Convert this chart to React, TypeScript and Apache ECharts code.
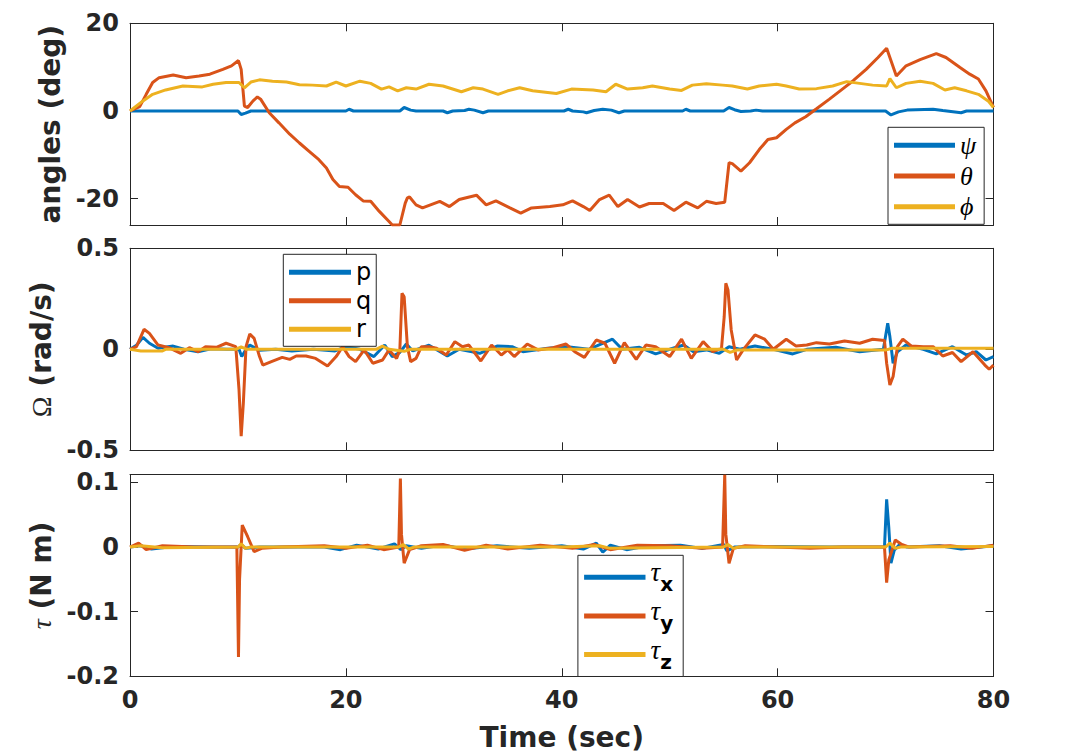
import { useEffect, useRef } from 'react';
import * as echarts from 'echarts';

// ---- data: time (s) / value pairs ----
const timeTicks = [0, 20, 40, 60, 80];
const angleTicks = [-20, 0, 20];
const rateTicks = [-0.5, 0, 0.5];
const torqueTicks = [-0.2, -0.1, 0, 0.1];

const psi: [number, number][] = [
  [0, 0], [10.0, 0], [10.3, -0.8], [10.7, -0.5], [11.2, 0], [20.0, 0], [20.3, 0.4], [20.7, 0], [25.0, 0], [25.4, 0.8],
  [26.0, 0.2], [26.5, 0], [29.0, 0], [29.4, -0.4], [29.9, 0], [31.0, 0.1], [31.4, 0.4], [31.9, 0.2], [32.7, -0.4], [33.2, 0],
  [40.2, 0], [40.6, 0.4], [41.0, 0], [42.0, -0.2], [42.3, -0.4], [43.0, 0.1], [43.8, 0.4], [44.6, 0.2], [45.3, -0.4], [45.8, 0],
  [51.2, 0], [51.5, 0.4], [51.9, 0], [55.0, 0], [55.5, 0.8], [56.0, 0.3], [56.6, -0.1], [57.5, 0], [58.0, 0.2], [58.6, 0],
  [70.0, 0], [70.5, -0.9], [71.2, -0.2], [72.0, 0.2], [74.4, 0.4], [75.3, 0.1], [77.0, -0.4], [77.5, 0], [80, 0],
];
const theta: [number, number][] = [
  [0, 0], [0.9, 1.0], [1.5, 3.8], [2.1, 6.5], [2.7, 7.6], [4.0, 8.2], [5.2, 7.6], [6.4, 8.0], [7.4, 8.4], [8.6, 9.5],
  [9.4, 10.3], [10.05, 11.5], [10.3, 9.5], [10.6, 1.1], [10.9, 0.8], [11.4, 2.3], [11.8, 3.2], [12.1, 2.7], [12.9, -0.4],
  [13.8, -2.7], [14.8, -5.3], [15.7, -7.3], [16.6, -9.2], [17.5, -11.1], [18.2, -13.0], [18.8, -15.6], [19.4, -17.2],
  [20.2, -17.4], [20.9, -19.1], [21.6, -20.5], [22.3, -20.6], [23.1, -22.9], [24.0, -25.2], [24.3, -26], [25.0, -26],
  [25.5, -21.0], [25.7, -19.8], [25.9, -19.6], [26.5, -21.4], [27.1, -22.1], [28.7, -20.6], [29.6, -21.8], [30.5, -20.2],
  [32.1, -19.2], [33.0, -21.4], [33.9, -20.5], [35.2, -22.1], [36.2, -23.3], [37.2, -22.1], [38.9, -21.8], [40.1, -21.4],
  [41.0, -20.5], [42.0, -21.8], [42.6, -22.7], [43.5, -20.2], [44.4, -19.2], [45.2, -21.8], [46.1, -20.2], [47.2, -21.9],
  [48.1, -21.1], [49.4, -21.1], [50.4, -22.7], [51.5, -20.8], [52.6, -22.1], [53.4, -20.6], [54.3, -21.1], [55.1, -20.8],
  [55.5, -11.8], [55.8, -12.0], [56.6, -13.7], [57.4, -11.8], [58.3, -8.8], [59.1, -6.5], [59.9, -6.1], [60.8, -4.2],
  [61.6, -2.7], [62.6, -1.3], [63.6, 0.5], [64.8, 2.7], [66.0, 5.0], [67.0, 6.9], [68.2, 9.5], [69.3, 12.2], [70.1, 14.3],
  [71.0, 8.0], [71.9, 10.3], [73.2, 11.7], [74.7, 13.1], [75.6, 12.2], [76.9, 9.9], [77.8, 8.4], [78.6, 7.3], [79.3, 4.6],
  [80, 0.8],
];
const phi: [number, number][] = [
  [0, 0], [1.2, 2.3], [2.1, 3.8], [3.3, 4.8], [4.9, 5.7], [6.7, 5.5], [7.7, 6.1], [8.9, 6.5], [10.1, 6.5], [10.6, 5.3],
  [11.2, 6.6], [12.0, 7.1], [13.2, 6.8], [14.5, 6.6], [15.7, 6.0], [16.9, 5.9], [18.2, 5.7], [19.1, 6.6], [20.0, 5.7],
  [21.3, 6.8], [22.3, 6.3], [23.3, 5.0], [24.0, 5.5], [24.8, 4.6], [25.6, 5.3], [26.5, 5.0], [27.7, 6.1], [29.0, 5.7],
  [30.7, 4.4], [31.8, 5.3], [32.7, 5.0], [34.1, 3.8], [35.0, 4.6], [36.1, 5.3], [37.3, 4.6], [39.5, 4.0], [40.9, 5.0],
  [42.9, 4.8], [44.1, 4.4], [45.0, 6.1], [46.1, 5.0], [47.5, 5.3], [48.4, 5.7], [50.0, 5.0], [51.1, 4.7], [52.1, 5.9],
  [53.4, 6.2], [54.9, 5.9], [55.8, 5.7], [57.2, 5.0], [58.3, 5.7], [59.9, 6.1], [60.8, 5.7], [62.0, 5.0], [63.6, 5.1],
  [65.1, 5.7], [66.4, 6.7], [67.6, 6.3], [68.8, 5.9], [70.1, 5.7], [70.4, 7.4], [71.0, 5.3], [71.9, 6.3], [73.2, 6.8],
  [74.4, 6.3], [75.5, 4.8], [76.4, 5.3], [77.5, 4.6], [78.6, 3.8], [79.5, 2.3], [80, 0.8],
];

const p: [number, number][] = [
  [0, 0], [0.6, 0.02], [1.2, 0.059], [1.8, 0.03], [2.6, 0.005], [3.2, 0.01], [4.0, 0.016], [5.0, 0], [6.3, -0.012],
  [7.5, 0.003], [9.0, 0], [10.1, 0], [10.35, -0.036], [10.7, -0.005], [11.1, 0.021], [12.0, -0.005], [13.5, 0],
  [15.0, -0.008], [17.0, 0], [19.0, -0.008], [20.0, 0.013], [21.3, 0], [22.6, -0.036], [23.6, 0.021], [24.3, -0.036],
  [25.0, -0.015], [25.6, 0.026], [26.2, -0.008], [27.7, 0.02], [29.4, -0.033], [30.5, 0], [32.4, -0.02], [34.0, 0.016],
  [35.4, 0.013], [36.4, -0.012], [38.7, 0.005], [40.5, 0.013], [42.5, 0], [44.7, 0.05], [45.6, 0], [47.2, 0.01],
  [48.7, -0.023], [50.0, 0], [51.3, 0.021], [52.2, -0.012], [53.4, -0.003], [54.6, -0.02], [55.5, 0.013], [56.5, 0],
  [57.9, 0.016], [59.6, 0], [61.4, -0.023], [62.7, 0], [65.4, 0.01], [67.6, -0.012], [69.8, 0], [70.2, 0.129],
  [70.4, 0.063], [70.7, -0.069], [71.1, -0.012], [71.9, 0.021], [73.5, 0], [74.7, -0.023], [76.2, 0.013], [77.5, -0.028],
  [78.4, -0.012], [79.3, -0.053], [80, -0.036],
];
const q: [number, number][] = [
  [0, 0], [0.6, 0.013], [1.3, 0.099], [1.8, 0.079], [2.6, 0.021], [3.6, 0.008], [4.7, -0.02], [5.5, 0.008], [6.3, -0.012],
  [7.0, 0.013], [8.0, 0.01], [8.9, 0.03], [9.8, 0.013], [10.1, -0.2], [10.3, -0.43], [10.5, -0.267], [10.75, 0.013],
  [11.1, 0.076], [11.5, 0.054], [12.0, -0.036], [12.3, -0.078], [13.1, -0.061], [14.1, -0.04], [14.8, -0.05],
  [15.4, -0.033], [16.3, -0.033], [17.2, -0.045], [18.3, -0.083], [19.1, -0.036], [19.7, 0.013], [20.3, -0.036],
  [20.9, -0.061], [21.7, -0.003], [22.5, -0.069], [23.4, -0.053], [24.0, -0.003], [24.7, -0.045], [25.0, -0.003],
  [25.2, 0.277], [25.4, 0.26], [25.7, 0.013], [26.0, -0.061], [26.5, -0.045], [27.0, 0.013], [27.7, 0.013], [28.4, 0.005],
  [29.3, -0.028], [30.1, 0.038], [30.8, 0.013], [31.4, 0.021], [32.5, -0.058], [33.5, 0.021], [34.4, -0.028],
  [35.0, -0.003], [35.6, -0.036], [36.8, 0.026], [37.8, -0.003], [39.2, 0.008], [40.4, 0.026], [41.2, -0.012],
  [42.1, -0.04], [43.2, 0.046], [44.0, 0.03], [44.9, -0.069], [45.8, 0.033], [46.9, -0.05], [47.8, 0.021], [48.7, 0.013],
  [50.0, -0.036], [51.1, 0.05], [52.0, -0.045], [53.1, 0.038], [54.0, -0.012], [54.8, 0.005], [55.05, 0.16], [55.2, 0.327],
  [55.4, 0.294], [55.7, 0.096], [56.2, -0.053], [56.8, -0.003], [57.9, 0.071], [58.8, 0.05], [59.6, 0], [60.8, 0.05],
  [61.7, 0.016], [62.7, 0.021], [63.6, 0.033], [64.8, 0.026], [66.2, 0.041], [67.6, 0.03], [68.8, 0.05], [69.9, 0.043],
  [70.1, -0.069], [70.4, -0.177], [70.7, -0.135], [71.1, 0.013], [71.6, 0.05], [72.4, 0.016], [73.5, 0.013],
  [74.4, 0.013], [75.3, -0.033], [76.2, -0.016], [77.0, -0.061], [78.1, -0.012], [79.2, -0.078], [79.6, -0.099],
  [80, -0.078],
];
const r: [number, number][] = [
  [0, 0], [1.0, -0.008], [3.0, -0.008], [3.3, 0], [9.8, 0], [10.3, 0.012], [10.8, 0], [22.8, 0], [23.4, 0.016],
  [24.0, 0], [25.4, -0.01], [26.0, 0], [55.0, 0], [55.6, -0.015], [56.2, -0.004], [70.0, -0.004], [70.6, 0.005], [80, 0.005],
];

const tauX: [number, number][] = [
  [0, 0], [1, 0.002], [2, -0.003], [4, 0.001], [8, 0], [10.0, 0], [10.3, 0.004], [10.7, -0.002], [12, 0], [18, 0],
  [19.5, -0.004], [21, 0.003], [23, -0.003], [24.5, 0.005], [25.1, -0.004], [25.6, 0.002], [27, -0.002], [29, 0.003],
  [31, -0.003], [34, 0.002], [37, -0.002], [40, 0.002], [42, -0.003], [43.2, 0.006], [43.8, -0.008], [44.5, 0.003],
  [46, -0.004], [48, 0.002], [51, 0.003], [53, -0.002], [55.0, 0.004], [55.3, -0.006], [56, 0], [60, 0.001], [65, 0],
  [69.9, 0], [70.1, 0.074], [70.3, 0.03], [70.5, -0.025], [70.8, -0.005], [71.3, 0.004], [72, 0], [75, 0.002],
  [77, -0.003], [80, 0.002],
];
const tauY: [number, number][] = [
  [0, 0], [0.8, 0.006], [1.5, -0.004], [3, 0.002], [6, 0], [9.9, 0], [10.05, -0.17], [10.15, -0.05], [10.4, 0.034],
  [10.9, 0.016], [11.5, -0.007], [12.2, -0.002], [14, 0], [18, 0.002], [20, -0.002], [22, 0.003], [23.5, -0.004],
  [24.9, 0], [25.05, 0.106], [25.15, 0.02], [25.4, -0.025], [25.9, -0.004], [27, 0.002], [29, 0.004], [31, -0.005],
  [33, 0.003], [35, -0.003], [38, 0.003], [41, -0.002], [43, 0.004], [44.5, -0.004], [47, 0.003], [50, 0.002],
  [53, -0.002], [54.9, 0], [55.1, 0.112], [55.2, 0.02], [55.5, -0.025], [55.9, -0.002], [57, 0.002], [60, 0],
  [63, -0.002], [66, 0], [69.9, 0], [70.1, -0.055], [70.3, -0.02], [70.9, 0.011], [71.5, 0.004], [72.2, 0],
  [76, 0.002], [78, -0.002], [80, 0.003],
];
const tauZ: [number, number][] = [
  [0, 0], [1, 0.002], [3, -0.001], [10.0, 0], [10.3, 0.005], [10.7, -0.002], [11.2, 0], [24.9, 0], [25.3, 0.004],
  [25.8, -0.003], [26.3, 0], [40, 0], [43.5, 0.002], [44.5, -0.002], [55.0, 0], [55.4, 0.004], [55.9, -0.002],
  [56.4, 0], [70.0, 0], [70.4, 0.006], [70.9, -0.002], [71.4, 0], [80, 0.001],
];

// ---- styling ----
const BLUE = '#0072BD';
const ORANGE = '#D95319';
const YELLOW = '#EDB120';
const AX = '#262626';
const SANS = 'DejaVu Sans';
const SERIF = 'Liberation Serif';

const GRID_LEFT = 130;
const GRID_W = 863.5;
const grids = [
  { top: 23.3, height: 201.7 },
  { top: 248.3, height: 202 },
  { top: 474.7, height: 201.6 },
];
const yRanges: [number, number, number[]][] = [
  [-26, 20, angleTicks],
  [-0.5, 0.5, rateTicks],
  [-0.2, 0.112, torqueTicks],
];

const tickLabel = { fontFamily: SANS, fontWeight: 'bold' as const, fontSize: 24, color: AX, lineHeight: 24 };
const titleStyle = { fontFamily: SANS, fontWeight: 'bold' as const, fontSize: 28, color: AX, lineHeight: 28 };

function buildOption() {
  const xAxis: any[] = [];
  const yAxis: any[] = [];
  grids.forEach((_, i) => {
    const last = i === grids.length - 1;
    ['bottom', 'top'].forEach((pos) => {
      const main = pos === 'bottom';
      xAxis.push({
        type: 'value', gridIndex: i, position: pos, min: 0, max: 80,
        axisLine: { show: true, onZero: false, lineStyle: { color: AX, width: 1 } },
        axisTick: { show: true, inside: true, length: 8, customValues: timeTicks, lineStyle: { color: AX, width: 1 } },
        axisLabel: {
          show: main && last, customValues: timeTicks, margin: 12, ...tickLabel,
        },
        splitLine: { show: false },
        ...(main && last
          ? { name: 'Time (sec)', nameLocation: 'middle', nameGap: 46.7, nameTextStyle: titleStyle }
          : {}),
      });
    });
    const [mn, mx, ticks] = yRanges[i];
    ['left', 'right'].forEach((pos) => {
      const main = pos === 'left';
      const nameCfg: any = {};
      if (main) {
        nameCfg.nameLocation = 'middle';
        nameCfg.nameRotate = 90;
        if (i === 0) {
          nameCfg.name = 'angles (deg)';
          nameCfg.nameGap = 62;
          nameCfg.nameTextStyle = titleStyle;
        } else if (i === 1) {
          nameCfg.name = '{g|Ω} (rad/s)';
          nameCfg.nameGap = 74;
          nameCfg.nameTextStyle = {
            ...titleStyle,
            rich: { g: { fontFamily: SERIF, fontWeight: 'normal', fontSize: 28, color: AX, lineHeight: 28 } },
          };
        } else {
          nameCfg.name = '{g|τ} (N m)';
          nameCfg.nameGap = 74;
          nameCfg.nameTextStyle = {
            ...titleStyle,
            rich: { g: { fontFamily: SERIF, fontStyle: 'italic', fontWeight: 'normal', fontSize: 28, color: AX, lineHeight: 28 } },
          };
        }
      }
      yAxis.push({
        type: 'value', gridIndex: i, position: pos, min: mn, max: mx,
        axisLine: { show: true, onZero: false, lineStyle: { color: AX, width: 1 } },
        axisTick: { show: true, inside: true, length: 8, customValues: ticks, lineStyle: { color: AX, width: 1 } },
        axisLabel: { show: main, customValues: ticks, margin: 11, ...tickLabel },
        splitLine: { show: false },
        ...nameCfg,
      });
    });
  });

  const mk = (name: string, data: [number, number][], color: string, g: number) => ({
    type: 'line', name, data, xAxisIndex: g * 2, yAxisIndex: g * 2,
    showSymbol: false, symbol: 'none', color,
    lineStyle: { color, width: 3 }, clip: true, z: 2,
  });

  const legendBase = {
    orient: 'vertical', icon: 'rect', itemHeight: 5, selectedMode: false,
    borderColor: AX, borderWidth: 1, backgroundColor: '#ffffff', borderRadius: 0, z: 10,
  };

  return {
    animation: false,
    backgroundColor: '#ffffff',
    grid: grids.map((g) => ({
      left: GRID_LEFT, top: g.top, width: GRID_W, height: g.height,
      containLabel: false, outerBoundsMode: 'none', show: false,
    })),
    xAxis,
    yAxis,
    legend: [
      {
        ...legendBase, data: ['ψ', 'θ', 'ϕ'], left: 888, top: 127.3,
        itemWidth: 61, itemGap: 4.7, padding: [5, 8, 4.6, 6],
        textStyle: { fontFamily: SERIF, fontStyle: 'italic', fontSize: 26, color: '#000', lineHeight: 24 },
      },
      {
        ...legendBase, data: ['p', 'q', 'r'], left: 283.3, top: 254.3,
        itemWidth: 62, itemGap: 4.5, padding: [6, 5, 5, 5.7],
        textStyle: { fontFamily: SANS, fontSize: 24, color: '#000', lineHeight: 24 },
      },
      {
        ...legendBase, data: ['τx', 'τy', 'τz'], left: 577.9, top: 555.3,
        itemWidth: 61.4, itemGap: 1.6, padding: [3.5, 10, 3.5, 6.2],
        formatter: (n: string) => `{t|τ}{s|${n.slice(1)}}`,
        textStyle: {
          color: '#000', lineHeight: 34,
          rich: {
            t: {
              fontFamily: SERIF, fontStyle: 'italic', fontSize: 27, color: '#000',
              lineHeight: 24, padding: [0, 0, 10, 0], verticalAlign: 'middle',
            },
            s: {
              fontFamily: SANS, fontWeight: 'bold', fontSize: 20, color: '#000',
              lineHeight: 20, padding: [14, 0, 0, 0], verticalAlign: 'middle',
            },
          },
        },
      },
    ],
    series: [
      mk('ψ', psi, BLUE, 0), mk('θ', theta, ORANGE, 0), mk('ϕ', phi, YELLOW, 0),
      mk('p', p, BLUE, 1), mk('q', q, ORANGE, 1), mk('r', r, YELLOW, 1),
      mk('τx', tauX, BLUE, 2), mk('τy', tauY, ORANGE, 2), mk('τz', tauZ, YELLOW, 2),
    ],
  };
}

export default function App() {
  const ref = useRef<HTMLDivElement>(null);
  useEffect(() => {
    if (!ref.current) return;
    const chart = echarts.init(ref.current, undefined, { renderer: 'svg' });
    chart.setOption(buildOption() as any);
    return () => chart.dispose();
  }, []);
  return (
    <div
      ref={ref}
      style={{ position: 'fixed', left: 0, top: 0, width: 1080, height: 752, background: '#ffffff' }}
    />
  );
}
